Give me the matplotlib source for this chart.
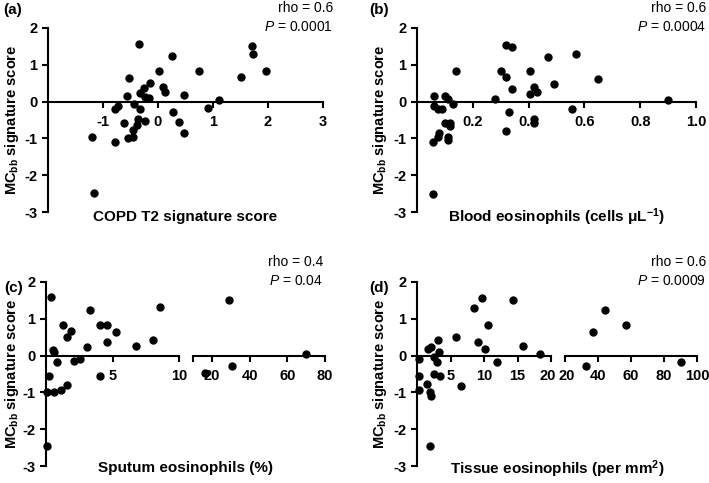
import matplotlib
matplotlib.use("Agg")
import matplotlib.pyplot as plt
from matplotlib.transforms import ScaledTranslation

plt.rcParams['font.family'] = ['Liberation Sans', 'DejaVu Sans']
plt.rcParams['mathtext.fontset'] = 'custom'
plt.rcParams['mathtext.rm'] = 'Liberation Sans:bold'
plt.rcParams['mathtext.it'] = 'Liberation Sans:style=italic:weight=normal'
plt.rcParams['mathtext.bf'] = 'Liberation Sans:bold'
plt.rcParams['axes.unicode_minus'] = False
plt.rcParams['font.weight'] = 'bold'

# (a) COPD T2 signature score vs MCbb score
copd_x = [-0.35, 0.26, 0.02, 0.75, 1.70, 1.72, 1.96, 1.50, -0.53, -0.14, -0.26, -0.33, 0.09,
          0.13, -0.57, -0.17, -0.24, 0.47, 1.10, -0.73, -0.78, -0.44, -0.33, 0.27, 0.90,
          -0.62, -0.36, -0.24, -0.39, 0.38, -0.45, 0.47, -1.20, -0.54, -0.45, -0.79, -1.16]
copd_y = [1.56, 1.23, 0.83, 0.83, 1.50, 1.29, 0.83, 0.66, 0.63, 0.50, 0.36, 0.23, 0.41,
          0.26, 0.15, 0.10, 0.12, 0.17, 0.05, -0.12, -0.20, -0.06, -0.20, -0.29, -0.18,
          -0.57, -0.47, -0.52, -0.64, -0.56, -0.77, -0.84, -0.97, -0.99, -0.95, -1.09, -2.48]

# (b) blood eosinophils
blood_x = [0.06, 0.06, 0.076, 0.088, 0.10, 0.11, 0.13, 0.14, 0.10, 0.12, 0.12, 0.08, 0.076,
           0.11, 0.11, 0.058, 0.058, 0.28, 0.30, 0.32, 0.34, 0.32, 0.34, 0.33, 0.32,
           0.405, 0.405, 0.42, 0.43, 0.42, 0.42, 0.47, 0.49, 0.57, 0.555, 0.65, 0.90]
blood_y = [0.14, -0.12, -0.19, -0.21, 0.15, 0.06, -0.07, 0.82, -0.59, -0.57, -0.66, -0.85,
           -0.97, -0.97, -1.03, -1.11, -2.50, 0.08, 0.82, 1.55, 1.48, 0.66, 0.35, -0.29,
           -0.79, 0.83, 0.20, 0.41, 0.25, -0.48, -0.57, 1.21, 0.48, 1.29, -0.19, 0.62, 0.03]

# (c) sputum eosinophils (%)
sputum_x = [0.38, 0.25, 0.1, 0.1, 0.55, 0.6, 0.85, 0.6, 1.1, 1.6, 1.3, 1.55, 1.85, 2.1, 2.58,
            3.08, 3.3, 4.05, 4.6, 4.55, 4.05, 5.3, 6.78, 8.05, 8.55, 29.0, 30.7, 16.4, 69.9]
sputum_y = [1.59, -0.56, -1.0, -2.47, 0.16, 0.09, -0.18, -1.0, -0.94, -0.81, 0.84, 0.51, 0.68,
            -0.16, -0.09, 0.24, 1.23, 0.84, 0.84, 0.36, -0.56, 0.64, 0.27, 0.42, 1.31,
            1.50, -0.27, -0.48, 0.05]

# (d) tissue eosinophils (per mm2)
tissue_x = [0.25, 0.25, 0.25, 1.5, 2.0, 2.05, 1.9, 1.6, 2.1, 2.5, 3.0, 2.5, 3.4, 3.15, 3.3,
            5.75, 6.55, 8.55, 9.75, 9.1, 10.1, 10.65, 11.9, 14.35, 15.75, 18.3,
            33.0, 36.8, 44.0, 57.0, 90.4]
tissue_y = [-0.09, -0.56, -0.94, -0.76, -1.0, -1.09, -2.47, 0.18, 0.24, -0.04, -0.17, -0.50,
            -0.56, 0.42, 0.09, 0.50, -0.82, 1.30, 1.57, 0.37, 0.17, 0.84, -0.18, 1.50, 0.27,
            0.05, -0.27, 0.64, 1.23, 0.84, -0.17]

stats = [("rho = 0.6", "0.0001"), ("rho = 0.6", "0.0004"),
         ("rho = 0.4", "0.04"), ("rho = 0.6", "0.0009")]

W, H = 709, 483
fig = plt.figure(figsize=(W / 100, H / 100), dpi=100)


def px_axes(x0, x1, ytop, ybot):
    return fig.add_axes([x0 / W, 1 - ybot / H, (x1 - x0) / W, (ybot - ytop) / H])


def style(ax, show_y=True):
    ax.set_ylim(-3, 2)
    for s in ['top', 'right']:
        ax.spines[s].set_visible(False)
    ax.spines['bottom'].set_position(('data', 0))
    ax.spines['bottom'].set_linewidth(1.5)
    ax.spines['left'].set_linewidth(1.5)
    ax.tick_params(width=1.5, length=4.5, labelsize=10.5, pad=3)
    ax.tick_params(axis='x', pad=5)
    if show_y:
        ax.set_yticks([-3, -2, -1, 0, 1, 2])
    else:
        ax.spines['left'].set_visible(False)
        ax.set_yticks([])
    ax.patch.set_alpha(0)


def dots(ax, x, y):
    ax.scatter(x, y, s=36, color='black', zorder=4, clip_on=False, linewidths=0)


def nudge(label, dx_px):
    label.set_transform(label.get_transform() + ScaledTranslation(dx_px / 100, 0, fig.dpi_scale_trans))


ylab = r'MC$_{\mathbf{bb}}$ signature score'

# panel a
ax_a = px_axes(48, 323, 28, 212)
dots(ax_a, copd_x, copd_y)
ax_a.set_xlim(-2, 3)
ax_a.set_xticks([-1, 0, 1, 2, 3])
style(ax_a)

# panel b
ax_b = px_axes(417, 696, 28, 212)
dots(ax_b, blood_x, blood_y)
ax_b.set_xlim(0, 1.0)
ax_b.set_xticks([0.2, 0.4, 0.6, 0.8, 1.0])
style(ax_b)

# panel c, broken axis
ax_c1 = px_axes(46, 179, 282, 466)
ax_c2 = px_axes(193, 325, 282, 466)
dots(ax_c1, [v for v in sputum_x if v <= 10], [b for a, b in zip(sputum_x, sputum_y) if a <= 10])
dots(ax_c2, [v for v in sputum_x if v > 10], [b for a, b in zip(sputum_x, sputum_y) if a > 10])
ax_c1.set_xlim(0, 10)
ax_c1.set_xticks([5, 10])
ax_c2.set_xlim(10, 80)
ax_c2.set_xticks([10, 20, 40, 60, 80])
ax_c2.set_xticklabels(['', '20', '40', '60', '80'])
style(ax_c1)
style(ax_c2, show_y=False)

# panel d, broken axis
ax_d1 = px_axes(417, 551, 282, 466)
ax_d2 = px_axes(565, 697, 282, 466)
dots(ax_d1, [v for v in tissue_x if v <= 20], [b for a, b in zip(tissue_x, tissue_y) if a <= 20])
dots(ax_d2, [v for v in tissue_x if v > 20], [b for a, b in zip(tissue_x, tissue_y) if a > 20])
ax_d1.set_xlim(0, 20)
ax_d1.set_xticks([5, 10, 15, 20])
ax_d2.set_xlim(20, 100)
ax_d2.set_xticks([20, 40, 60, 80, 100])
style(ax_d1)
style(ax_d2, show_y=False)
nudge(ax_d1.get_xticklabels()[-1], -3)
nudge(ax_d2.get_xticklabels()[0], 2)

# labels
xlabels = [("COPD T2 signature score", 185, 217),
           ("Blood eosinophils (cells \u03bcL$^{-1}$)", 557, 217),
           ("Sputum eosinophils (%)", 186, 468),
           ("Tissue eosinophils (per mm$^{2}$)", 557, 469)]
for txt, x, y in xlabels:
    fig.text(x / W, 1 - y / H, txt, ha='center', va='center', fontsize=11, fontweight='bold')

for x, y in [(12, 120), (380, 120), (12, 374), (380, 374)]:
    fig.text(x / W, 1 - y / H, ylab, rotation=90, ha='center', va='center',
             fontsize=10.5, fontweight='bold')

for lab, x, y in [("(a)", 3, 10), ("(b)", 369, 10), ("(c)", 4, 288), ("(d)", 369, 288)]:
    fig.text(x / W, 1 - y / H, lab, ha='left', va='center', fontsize=11, fontweight='bold')

for (rho, p), x, y in zip(stats, [333, 706, 323, 706], [8, 8, 262, 262]):
    fig.text(x / W, 1 - y / H, rho, ha='right', va='center', fontsize=10, fontweight='normal')
    fig.text(x / W, 1 - (y + 19) / H, r'$\it{P}$' + ' = ' + p, ha='right', va='center',
             fontsize=10, fontweight='normal')

fig.savefig("out.png", dpi=100)
